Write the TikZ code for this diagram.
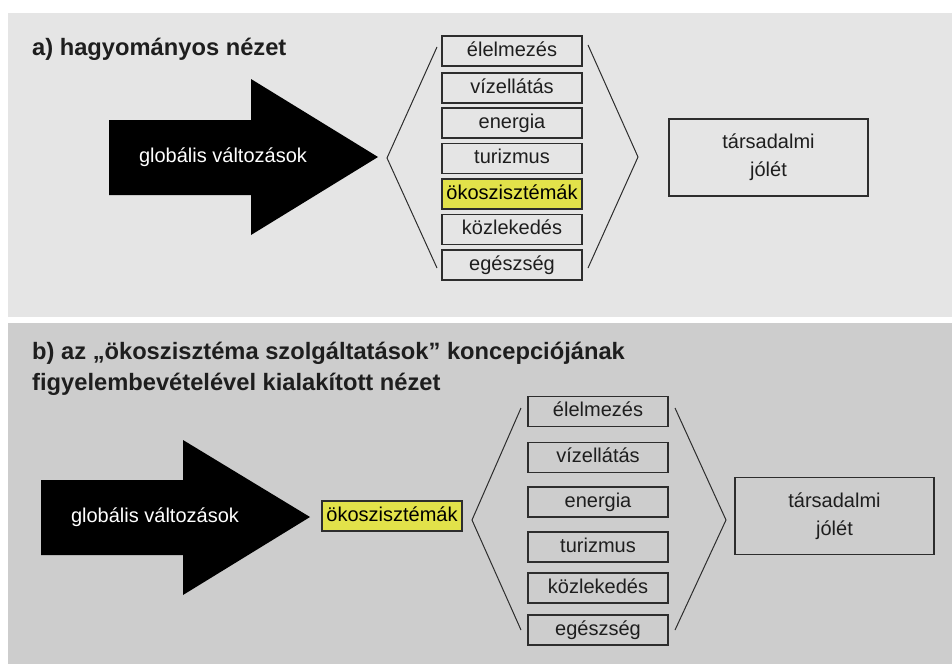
\documentclass[tikz,border=0pt]{standalone}
\usepackage{fontspec}
\setmainfont{Liberation Sans}
\definecolor{bga}{RGB}{229, 229, 229}
\definecolor{bgb}{RGB}{205, 205, 205}
\definecolor{eko}{RGB}{226, 226, 74}
\definecolor{keret}{RGB}{45, 45, 45}
\definecolor{betu}{RGB}{30, 30, 30}

\begin{document}
\begin{tikzpicture}[x=1pt, y=-1pt,
sectornode/.style={draw=keret, line width=1.3pt, minimum width=140pt, minimum height=30pt, inner sep=0pt, text height=14.5pt, text depth=4pt, text=betu, font=\fontsize{20}{24}\selectfont},
ekonode/.style={sectornode, fill=eko, text=black},
jolletnode/.style={draw=keret, line width=1.3pt, minimum width=199pt, minimum height=77pt, align=center, text=betu, font=\fontsize{20}{28}\selectfont},
titlenode/.style={anchor=base west, inner sep=0pt, text=betu, font=\fontsize{23.7}{31}\selectfont\bfseries},
arrowtext/.style={text=white, font=\fontsize{20}{24}\selectfont},
]
\useasboundingbox (0,0) rectangle (952,664);
%Backgrounds
\fill[bga] (8,13) rectangle (952,317);
\fill[bgb] (8,323) rectangle (952,664);

%Arrows
\fill[black] (109,120) -- (251,120) -- (251,79) -- (378,157) -- (251,235) -- (251,195) -- (109,195) -- cycle;
\fill[black] (41,480) -- (183,480) -- (183,440) -- (310,517) -- (183,595) -- (183,555) -- (41,555) -- cycle;

%Nodes a)
\node[titlenode]    (ta)    at (32,55) {a) hagyományos nézet};
\node[arrowtext]    (ga)    at (223,157) {globális változások};
\node[sectornode]   (a1)    at (512,51) {élelmezés};
\node[sectornode]   (a2)    at (512,88) {vízellátás};
\node[sectornode]   (a3)    at (512,123) {energia};
\node[sectornode]   (a4)    at (512,158.5) {turizmus};
\node[ekonode]      (a5)    at (512,194) {ökoszisztémák};
\node[sectornode]   (a6)    at (512,229.5) {közlekedés};
\node[sectornode]   (a7)    at (512,265) {egészség};
\node[jolletnode]   (ja)    at (768.5,157.5) {társadalmi\\jólét};

%Nodes b)
\node[titlenode]    (tb)    at (32,359.5) {b) az „ökoszisztéma szolgáltatások” koncepciójának};
\node[titlenode]    (tb2)   at (32,390.5) {figyelembevételével kialakított nézet};
\node[arrowtext]    (gb)    at (155,517) {globális változások};
\node[ekonode]      (eb)    at (392,516) {ökoszisztémák};
\node[sectornode]   (b1)    at (598,411.5) {élelmezés};
\node[sectornode]   (b2)    at (598,457.5) {vízellátás};
\node[sectornode]   (b3)    at (598,502) {energia};
\node[sectornode]   (b4)    at (598,547) {turizmus};
\node[sectornode]   (b5)    at (598,588) {közlekedés};
\node[sectornode]   (b6)    at (598,630) {egészség};
\node[jolletnode]   (jb)    at (834.5,516) {társadalmi\\jólét};

%Brackets
\draw[keret, line width=1pt] (437,47) -- (387,158) -- (437,268);
\draw[keret, line width=1pt] (588,45) -- (638,157) -- (588,268);
\draw[keret, line width=1pt] (521,408) -- (472,520) -- (521,630);
\draw[keret, line width=1pt] (675,408) -- (726,520) -- (675,630);

\end{tikzpicture}
\end{document}
